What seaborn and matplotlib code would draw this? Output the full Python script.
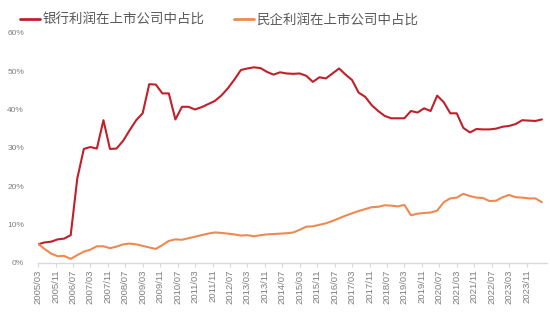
import numpy as np
import pandas as pd
import matplotlib
matplotlib.use("Agg")
import matplotlib.pyplot as plt
import matplotlib.dates as mdates
from matplotlib.ticker import FuncFormatter
import seaborn as sns

# Quarterly share of listed-company profits, 2005Q1 - 2024Q2 (percent)
start_quarter = "2005-03-01"
n_quarters = 78

bank_share = [
    4.8, 5.3, 5.5, 6.1, 6.3, 7.2, 22.0, 29.7, 30.2, 29.8,
    37.2, 29.7, 29.8, 31.8, 34.6, 37.2, 39.0, 46.6, 46.5, 44.2,
    44.2, 37.4, 40.7, 40.7, 40.0, 40.6, 41.4, 42.2, 43.6, 45.5,
    47.8, 50.3, 50.7, 51.0, 50.8, 49.8, 49.1, 49.7, 49.4, 49.3,
    49.4, 48.8, 47.2, 48.4, 48.1, 49.4, 50.7, 49.1, 47.7, 44.4,
    43.3, 41.1, 39.6, 38.3, 37.7, 37.7, 37.7, 39.6, 39.2, 40.3,
    39.6, 43.6, 41.9, 39.0, 39.0, 35.2, 34.0, 34.9, 34.8, 34.8,
    35.0, 35.5, 35.7, 36.2, 37.2, 37.1, 37.0, 37.4,
]

private_share = [
    5.0, 3.6, 2.4, 1.7, 1.8, 1.0, 2.0, 2.9, 3.4, 4.3,
    4.3, 3.8, 4.2, 4.8, 5.0, 4.8, 4.4, 4.0, 3.6, 4.6,
    5.7, 6.1, 6.0, 6.4, 6.8, 7.2, 7.6, 7.9, 7.8, 7.6,
    7.4, 7.1, 7.2, 6.9, 7.2, 7.4, 7.5, 7.6, 7.7, 7.9,
    8.6, 9.4, 9.5, 9.9, 10.3, 10.9, 11.6, 12.3, 12.9, 13.5,
    14.0, 14.5, 14.6, 15.0, 14.9, 14.7, 15.1, 12.4, 12.8, 13.0,
    13.1, 13.6, 15.8, 16.8, 17.0, 18.0, 17.4, 17.0, 16.9, 16.1,
    16.2, 17.1, 17.7, 17.1, 17.0, 16.8, 16.8, 15.8,
]

series_names = ["银行利润在上市公司中占比", "民企利润在上市公司中占比"]
series_colors = ["#C0202A", "#EE8A50"]

dates = pd.date_range(start_quarter, periods=n_quarters, freq="QS-MAR")
df = pd.concat([
    pd.DataFrame({"date": dates, "share": np.array(bank_share) / 100, "series": series_names[0]}),
    pd.DataFrame({"date": dates, "share": np.array(private_share) / 100, "series": series_names[1]}),
])

sns.set_theme(style="white")
plt.rcParams["font.family"] = ["Noto Sans CJK SC", "DejaVu Sans"]

fig = plt.figure(figsize=(5.5, 3.22), dpi=100)
ax = fig.add_axes([0.069, 0.184, 0.926, 0.714])

sns.lineplot(
    data=df, x="date", y="share", hue="series",
    palette=dict(zip(series_names, series_colors)),
    linewidth=1.5, ax=ax, legend=True,
)

# axes ranges and ticks
ax.set_ylim(0, 0.6)
ax.set_xlim(pd.Timestamp("2005-03-01"), pd.Timestamp("2024-08-15"))
ax.set_yticks(np.arange(0, 0.61, 0.1))
ax.yaxis.set_major_formatter(FuncFormatter(lambda v, _: f"{v*100:.0f}%"))

xticks = pd.date_range("2005-03-01", "2023-11-01", freq="8MS")
ax.set_xticks(xticks)
ax.xaxis.set_major_formatter(mdates.DateFormatter("%Y/%m"))

tick_color = "#7F7F7F"
for lbl in ax.get_xticklabels():
    lbl.set_rotation(90)
    lbl.set_fontsize(6.8)
    lbl.set_color(tick_color)
    lbl.set_fontfamily(["Liberation Sans", "DejaVu Sans"])
for lbl in ax.get_yticklabels():
    lbl.set_fontsize(6)
    lbl.set_color(tick_color)
    lbl.set_fontfamily(["Liberation Sans", "DejaVu Sans"])

ax.set_xlabel("")
ax.set_ylabel("")
for side in ["top", "right", "left"]:
    ax.spines[side].set_visible(False)
ax.spines["bottom"].set_color("#D9D9D9")
ax.spines["bottom"].set_linewidth(1.0)
ax.tick_params(axis="x", which="major", bottom=True, length=3, width=0.8,
               color="#D9D9D9", pad=2)
ax.tick_params(axis="y", length=0, pad=10)
ax.grid(False)

leg = ax.legend(
    loc="lower left", bbox_to_anchor=(-0.035, 1.025), ncol=2, frameon=False,
    fontsize=9.7, handlelength=1.5, handletextpad=0.15, columnspacing=2.2,
    borderaxespad=0, borderpad=0,
)
for txt in leg.get_texts():
    txt.set_color("#595959")
for line in leg.get_lines():
    line.set_linewidth(2)

fig.savefig("out.png", dpi=100)
